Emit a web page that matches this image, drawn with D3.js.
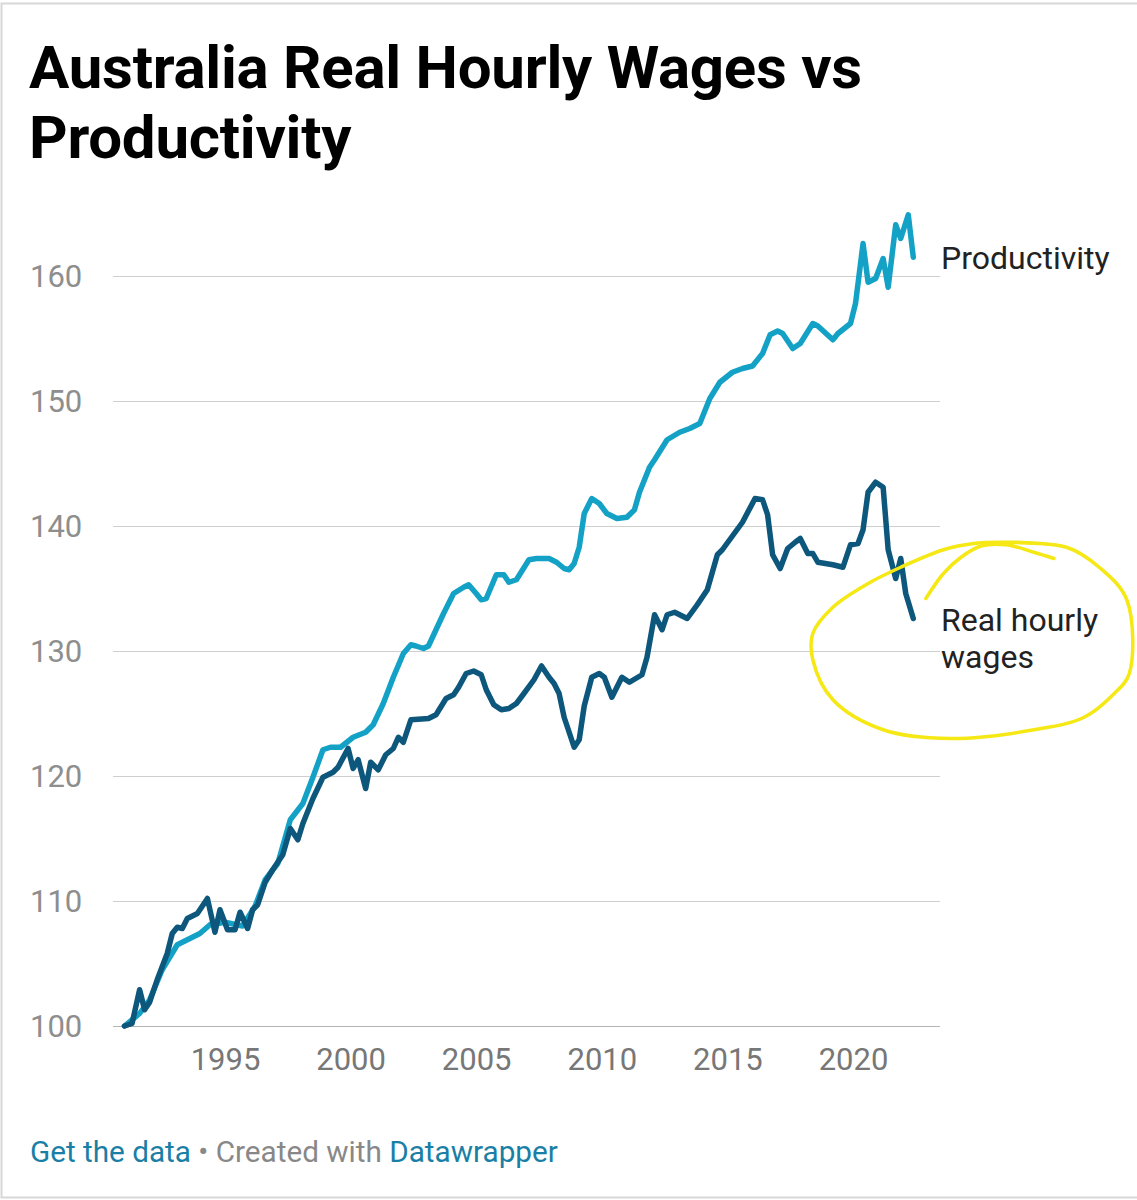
<!DOCTYPE html>
<html>
<head>
<meta charset="utf-8">
<script src="https://cdn.jsdelivr.net/npm/d3@7"></script>
<style>
  html, body { margin: 0; padding: 0; background: #fff; }
  svg { display: block; font-family: Roboto, "Noto Sans", sans-serif; }
</style>
</head>
<body>
<svg id="chart"></svg>
<script>
// values: [decimal year, index]
const productivity = [
    [1991.0, 100.0], [1991.6, 101.0], [1992.0, 102.1], [1992.5, 104.5], [1993.1, 106.5],
    [1993.6, 107.0], [1994.0, 107.4], [1994.4, 108.1], [1995.0, 108.3], [1995.7, 108.0],
    [1996.2, 109.6], [1996.6, 111.7], [1997.1, 113.0], [1997.6, 116.5], [1998.1, 117.8],
    [1998.5, 119.9], [1998.9, 122.1], [1999.2, 122.3], [1999.6, 122.3], [2000.1, 123.1],
    [2000.6, 123.5], [2000.9, 124.1], [2001.3, 125.8], [2001.7, 127.9], [2002.1, 129.8],
    [2002.4, 130.5], [2002.6, 130.4], [2002.9, 130.2], [2003.1, 130.4], [2003.4, 131.7],
    [2003.7, 133.0], [2004.1, 134.6], [2004.5, 135.1], [2004.7, 135.3], [2005.0, 134.6],
    [2005.2, 134.1], [2005.4, 134.2], [2005.8, 136.1], [2006.1, 136.1], [2006.3, 135.5],
    [2006.6, 135.7], [2007.1, 137.3], [2007.4, 137.4], [2007.9, 137.4], [2008.2, 137.1],
    [2008.5, 136.6], [2008.7, 136.5], [2008.9, 137.0], [2009.1, 138.3], [2009.3, 141.0],
    [2009.6, 142.2], [2009.9, 141.8], [2010.2, 141.0], [2010.6, 140.6], [2011.0, 140.7],
    [2011.3, 141.3], [2011.5, 142.7], [2011.9, 144.7], [2012.1, 145.3], [2012.6, 146.9],
    [2013.1, 147.5], [2013.5, 147.8], [2013.9, 148.2], [2014.3, 150.2], [2014.7, 151.5],
    [2015.2, 152.3], [2015.6, 152.6], [2016.0, 152.8], [2016.4, 153.8], [2016.7, 155.3],
    [2017.0, 155.6], [2017.2, 155.4], [2017.6, 154.2], [2017.9, 154.6], [2018.4, 156.2],
    [2018.6, 156.0], [2019.2, 154.9], [2019.4, 155.4], [2019.9, 156.2], [2020.1, 157.8],
    [2020.4, 162.6], [2020.6, 159.5], [2020.9, 159.8], [2021.2, 161.4], [2021.4, 159.1],
    [2021.7, 164.1], [2021.9, 163.0], [2022.2, 164.9], [2022.4, 161.5]
];

const realWages = [
    [1991.0, 100.0], [1991.3, 100.2], [1991.6, 102.9], [1991.8, 101.3], [1992.0, 101.9],
    [1992.3, 103.7], [1992.7, 105.8], [1992.9, 107.4], [1993.1, 107.9], [1993.3, 107.8],
    [1993.5, 108.6], [1993.9, 109.0], [1994.3, 110.2], [1994.6, 107.5], [1994.8, 109.3],
    [1995.1, 107.7], [1995.4, 107.7], [1995.6, 109.1], [1995.9, 107.8], [1996.1, 109.3],
    [1996.3, 109.7], [1996.6, 111.5], [1996.9, 112.5], [1997.3, 113.7], [1997.6, 115.8],
    [1997.9, 114.9], [1998.1, 116.2], [1998.5, 118.2], [1998.9, 119.9], [1999.3, 120.3],
    [1999.5, 120.7], [1999.9, 122.2], [2000.1, 120.6], [2000.3, 121.3], [2000.6, 119.0],
    [2000.8, 121.1], [2001.1, 120.5], [2001.4, 121.7], [2001.7, 122.2], [2001.9, 123.1],
    [2002.1, 122.7], [2002.4, 124.5], [2003.1, 124.6], [2003.4, 124.9], [2003.8, 126.2],
    [2004.1, 126.5], [2004.3, 127.1], [2004.6, 128.2], [2004.9, 128.4], [2005.2, 128.1],
    [2005.4, 126.9], [2005.7, 125.7], [2006.0, 125.3], [2006.3, 125.4], [2006.6, 125.8],
    [2006.9, 126.6], [2007.3, 127.7], [2007.6, 128.8], [2007.9, 127.9], [2008.1, 127.4],
    [2008.3, 126.6], [2008.5, 124.7], [2008.9, 122.3], [2009.1, 122.9], [2009.3, 125.6],
    [2009.6, 127.9], [2009.9, 128.2], [2010.1, 127.9], [2010.4, 126.3], [2010.8, 127.9],
    [2011.1, 127.5], [2011.6, 128.1], [2011.8, 129.5], [2012.1, 132.9], [2012.4, 131.7],
    [2012.6, 132.9], [2012.9, 133.1], [2013.4, 132.6], [2013.8, 133.7], [2014.2, 134.9],
    [2014.6, 137.7], [2014.8, 138.1], [2015.6, 140.3], [2016.1, 142.2], [2016.4, 142.1],
    [2016.6, 140.9], [2016.8, 137.7], [2017.1, 136.6], [2017.4, 138.2], [2017.7, 138.7],
    [2017.9, 139.0], [2018.2, 137.8], [2018.4, 137.8], [2018.6, 137.1], [2019.2, 136.9],
    [2019.6, 136.7], [2019.9, 138.5], [2020.2, 138.6], [2020.4, 139.7], [2020.6, 142.7],
    [2020.9, 143.5], [2021.2, 143.1], [2021.4, 138.1], [2021.7, 135.8], [2021.9, 137.4],
    [2022.1, 134.6], [2022.4, 132.6]
];

const yTicks = [100, 110, 120, 130, 140, 150, 160];
const xTicks = [1995, 2000, 2005, 2010, 2015, 2020];

// hand-drawn yellow highlight, in chart units
const circleStroke = [
    [2025.9, 138.7], [2028.5, 138.3], [2029.8, 136.7], [2030.9, 134.1], [2031.0, 128.2],
    [2030.4, 126.6], [2029.2, 124.7], [2027.2, 123.7], [2023.9, 123.0], [2021.2, 123.7],
    [2019.2, 126.1], [2018.4, 129.3], [2018.4, 131.4], [2019.2, 133.5], [2020.6, 135.4],
    [2021.9, 136.7], [2023.6, 138.1], [2024.8, 138.6], [2025.9, 138.7], [2027.4, 138.6]
];
const hookStroke = [
    [2022.9, 134.2], [2023.6, 136.2], [2024.3, 137.5], [2025.1, 138.4], [2026.1, 138.5],
    [2027.2, 137.9], [2028.0, 137.4]
];

const width = 1137, height = 1200;
const svg = d3.select("#chart").attr("width", width).attr("height", height);

svg.append("rect").attr("width", width).attr("height", height).attr("fill", "#fff");
// screenshot frame
svg.append("path")
    .attr("d", `M${width + 5},3.5H1.5V1197.5H${width + 5}`)
    .attr("fill", "none")
    .attr("stroke", "#d8d8d8")
    .attr("stroke-width", 2);

svg.append("text")
    .attr("x", 29)
    .attr("font-size", 60)
    .attr("font-weight", 700)
    .attr("letter-spacing", -0.25)
    .attr("fill", "#000")
    .selectAll("tspan")
    .data(["Australia Real Hourly Wages vs", "Productivity"])
    .join("tspan")
    .attr("x", 29)
    .attr("y", (d, i) => 88 + i * 70)
    .text(d => d);

const x = d3.scaleLinear().domain([1995, 2020]).range([225, 853]);
const y = d3.scaleLinear().domain([100, 160]).range([1026, 276]);

const grid = svg.append("g");
grid.selectAll("line")
    .data(yTicks)
    .join("line")
    .attr("x1", 113)
    .attr("x2", 940)
    .attr("y1", d => y(d) + 0.5)
    .attr("y2", d => y(d) + 0.5)
    .attr("stroke", d => d === 100 ? "#b5b5b5" : "#cfcfcf")
    .attr("stroke-width", 1);

grid.selectAll("text")
    .data(yTicks)
    .join("text")
    .attr("x", 30)
    .attr("y", d => y(d))
    .attr("dy", "0.36em")
    .attr("font-size", 31)
    .attr("fill", "#8e8e8e")
    .text(d => d);

svg.append("g")
    .attr("transform", "translate(0,1026)")
    .call(d3.axisBottom(x).tickValues(xTicks).tickFormat(d3.format("d")).tickSize(0).tickPadding(22))
    .call(g => g.select(".domain").remove())
    .selectAll("text")
    .attr("font-family", "Roboto, sans-serif")
    .attr("font-size", 31)
    .attr("fill", "#777");

const line = d3.line()
    .x(d => x(d[0]))
    .y(d => y(d[1]));

svg.append("path")
    .datum(productivity)
    .attr("fill", "none")
    .attr("stroke", "#14a1c6")
    .attr("stroke-width", 5.5)
    .attr("stroke-linejoin", "round")
    .attr("stroke-linecap", "round")
    .attr("d", line);

svg.append("path")
    .datum(realWages)
    .attr("fill", "none")
    .attr("stroke", "#0d577c")
    .attr("stroke-width", 5.5)
    .attr("stroke-linejoin", "round")
    .attr("stroke-linecap", "round")
    .attr("d", line);

// direct labels
svg.append("text")
    .attr("x", 941)
    .attr("y", y(161.5))
    .attr("dy", "0.36em")
    .attr("font-size", 32)
    .attr("fill", "#222")
    .text("Productivity");

svg.append("text")
    .attr("font-size", 32)
    .attr("fill", "#222")
    .selectAll("tspan")
    .data(["Real hourly", "wages"])
    .join("tspan")
    .attr("x", 941)
    .attr("y", (d, i) => y(132.5) + 11 + i * 37)
    .text(d => d);

const scribble = d3.line()
    .x(d => x(d[0]))
    .y(d => y(d[1]))
    .curve(d3.curveCatmullRom);

[circleStroke, hookStroke].forEach(pts => {
    svg.append("path")
        .datum(pts)
        .attr("fill", "none")
        .attr("stroke", "#f5e814")
        .attr("stroke-width", 3.5)
        .attr("stroke-linecap", "round")
        .attr("d", scribble);
});

// footer
const footer = svg.append("text")
    .attr("x", 30)
    .attr("y", 1162)
    .attr("font-size", 29.7);
footer.append("tspan").attr("fill", "#1a7fa6").text("Get the data");
footer.append("tspan").attr("fill", "#888").text(" \u2022 Created with ");
footer.append("tspan").attr("fill", "#1a7fa6").text("Datawrapper");
</script>
</body>
</html>
